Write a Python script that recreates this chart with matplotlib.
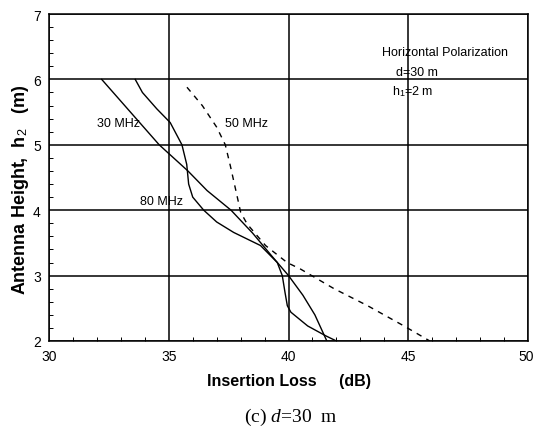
import matplotlib
matplotlib.use('Agg')
import matplotlib.pyplot as plt
from matplotlib.ticker import MultipleLocator, FixedFormatter

plt.rcParams['font.family'] = ['Liberation Sans', 'DejaVu Sans']
plt.rcParams['mathtext.fontset'] = 'custom'
plt.rcParams['mathtext.rm'] = 'Liberation Sans'
plt.rcParams['mathtext.it'] = 'Liberation Serif:italic'
plt.rcParams['mathtext.bf'] = 'Liberation Sans:bold'

# 30 MHz (nearly straight)
loss_30 = [32.2, 33.4, 34.6, 35.8, 36.6, 37.6, 38.5, 39.3, 40.0, 40.6, 41.1, 41.6]
h_30 = [6.0, 5.5, 5.0, 4.6, 4.3, 4.0, 3.65, 3.3, 3.0, 2.7, 2.4, 2.0]

# 80 MHz (S-shaped)
loss_80 = [33.6, 33.9, 34.5, 35.06, 35.55, 35.75, 35.83, 36.0, 36.46, 37.0, 37.71,
           38.83, 39.53, 39.74, 39.85, 39.95, 40.1, 40.8, 41.55, 42.0]
h_80 = [6.0, 5.8, 5.55, 5.34, 5.0, 4.7, 4.4, 4.2, 4.0, 3.82, 3.66,
        3.46, 3.2, 3.0, 2.75, 2.54, 2.44, 2.23, 2.08, 2.0]

# 50 MHz (dashed)
loss_50 = [35.76, 36.4, 37.0, 37.36, 37.57, 37.85, 38.0, 38.27, 39.04, 39.94, 40.5,
           41.9, 43.3, 44.82, 45.9]
h_50 = [5.88, 5.6, 5.27, 5.0, 4.68, 4.22, 3.97, 3.79, 3.46, 3.2, 3.1,
        2.8, 2.54, 2.23, 2.0]

x_ticks = [30, 35, 40, 45, 50]
x_tick_labels = ['30', '35', '40', '45', '50']

fig = plt.figure(figsize=(5.34, 4.35), dpi=100)
ax = fig.add_axes([0.0918, 0.2138, 0.897, 0.7517])

ax.plot(loss_30, h_30, color='black', lw=1.0)
ax.plot(loss_80, h_80, color='black', lw=1.0)
ax.plot(loss_50, h_50, color='black', lw=1.0, linestyle=(0, (4, 4)))

ax.set_xlim(30, 50)
ax.set_ylim(2, 7)
ax.set_xticks(x_ticks)
# last label is drawn by hand so it is not clipped at the right edge
ax.xaxis.set_major_formatter(FixedFormatter(x_tick_labels[:-1] + ['']))
ax.xaxis.set_minor_locator(MultipleLocator(1))
ax.yaxis.set_major_locator(MultipleLocator(1))
ax.yaxis.set_minor_locator(MultipleLocator(0.2))
ax.tick_params(which='both', direction='in', top=False, right=False)
ax.tick_params(which='major', length=0, labelsize=10, pad=6)
ax.tick_params(which='minor', length=3, width=0.7)
ax.grid(which='major', color='black', lw=1.1)
for s in ax.spines.values():
    s.set_linewidth(1.1)

ax.text(0.996, -0.025, x_tick_labels[-1], transform=ax.transAxes, fontsize=10,
        ha='center', va='top')

ax.text(32.9, 5.28, '30 MHz', fontsize=9, ha='center')
ax.text(37.35, 5.28, '50 MHz', fontsize=9, ha='left')
ax.text(34.7, 4.1, '80 MHz', fontsize=9, ha='center')
ax.text(43.9, 6.37, 'Horizontal Polarization', fontsize=9, ha='left')
ax.text(44.5, 6.07, 'd=30 m', fontsize=9, ha='left')
ax.text(44.3, 5.77, 'h$_1$=2 m', fontsize=9, ha='left')

ax.set_xlabel('Insertion Loss     (dB)', fontsize=11.5, fontweight='bold', labelpad=7)
ax.set_ylabel('Antenna Height,  h$_2$   (m)', fontsize=13, fontweight='bold')
ax.yaxis.set_label_coords(-0.037, 0.465)

fig.text(0.545, 0.03, '(c) $d$=30  m', fontsize=14, family='Liberation Serif',
         ha='center')

fig.savefig('out.png', dpi=100)
